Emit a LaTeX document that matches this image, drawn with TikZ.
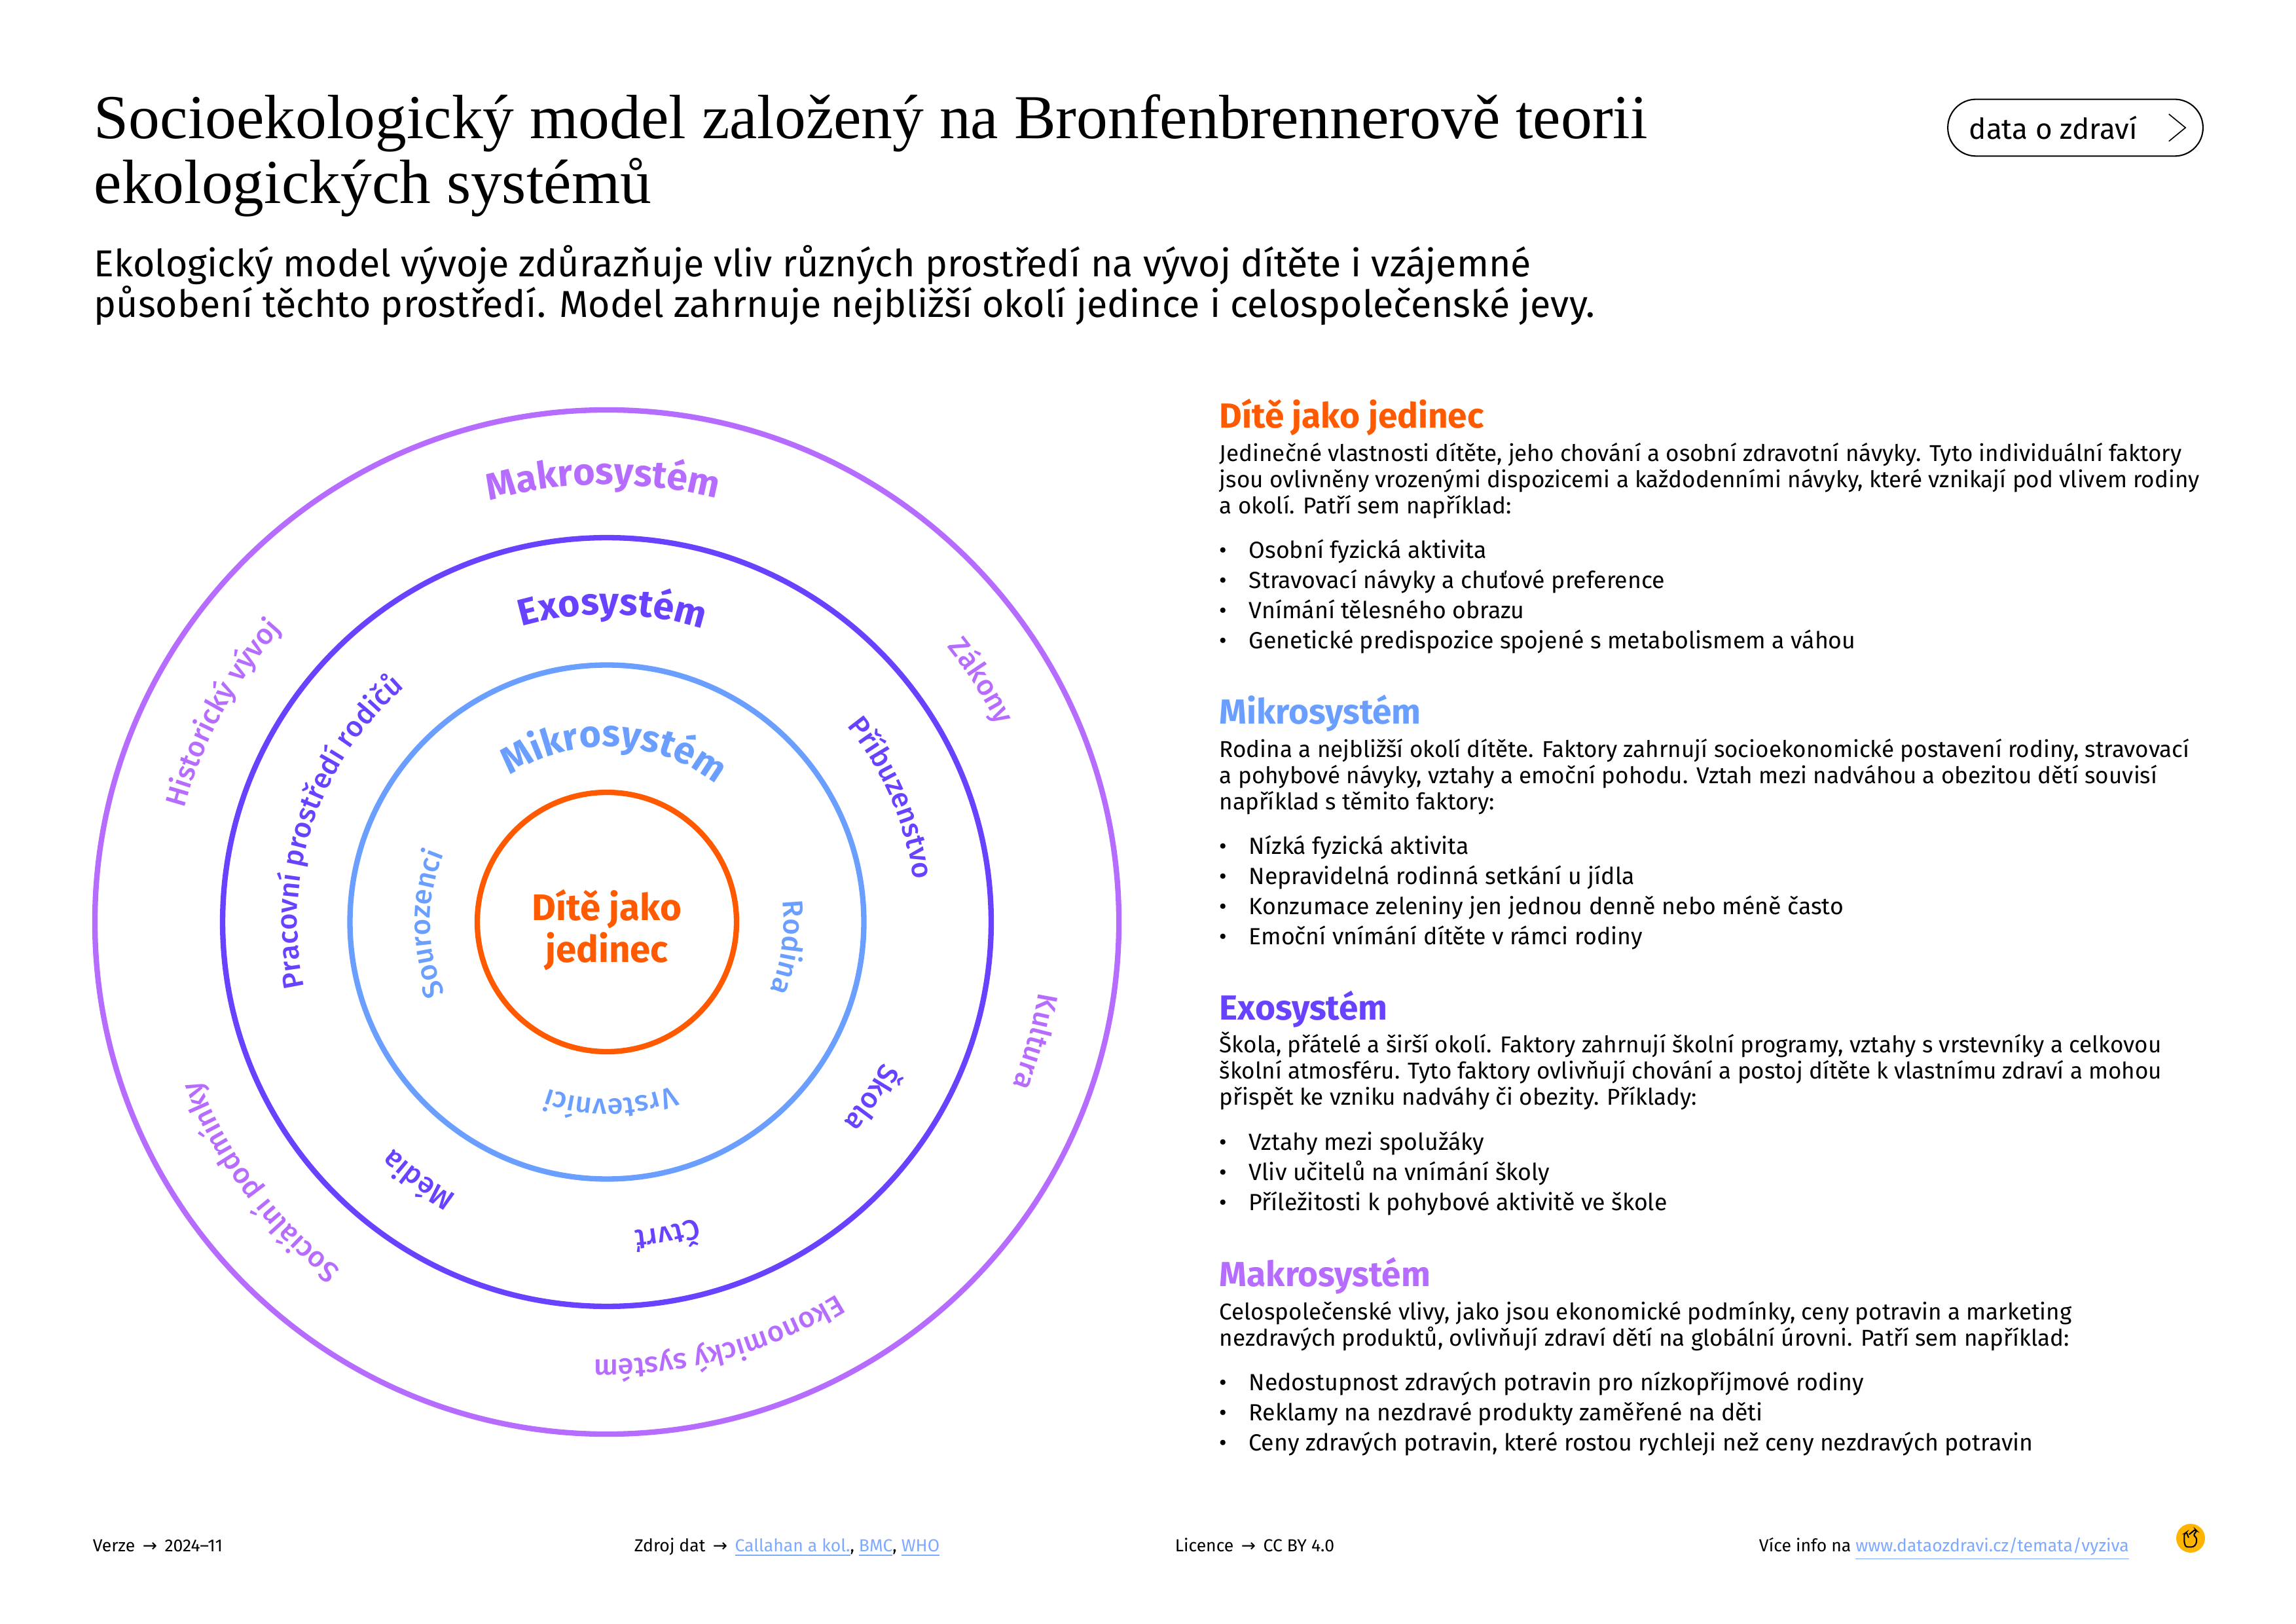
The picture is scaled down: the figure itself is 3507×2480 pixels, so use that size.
\documentclass[tikz,border=0pt]{standalone}
\usepackage{fontspec}
\usepackage{xcolor}
\usetikzlibrary{positioning, calc, decorations.text}
\setmainfont{Fira Sans}
\newfontfamily\titlefont{Liberation Serif}
\newfontfamily\arrowfont{DejaVu Sans}
\newfontfamily\arcfont{Fira Sans Medium}
\definecolor{childcol}{HTML}{FF5A00}
\definecolor{microcol}{HTML}{6A9EFF}
\definecolor{exocol}{HTML}{6842FF}
\definecolor{macrocol}{HTML}{B56CFF}
\definecolor{linkcol}{HTML}{7FA8FF}
\definecolor{logocol}{HTML}{FFB400}
\newcommand{\arclabel}[4]{%
  \path[decorate, decoration={text along path, text align=center, text={|#3|#4}}]
    (#2+80:#1) arc[start angle=#2+80, end angle=#2-80, radius=#1];}
\newcommand{\itm}[1]{\makebox[10.8pt][l]{\textbullet}#1}
\newcommand{\ftarrow}{{\arrowfont\,→\,}}
\newcommand{\lnk}[1]{\textcolor{linkcol}{\underline{#1}}}
\newcommand{\bigarc}{\fontsize{13.8}{15}\selectfont\bfseries}
\newcommand{\smallarc}{\fontsize{10.5}{12}\selectfont\arcfont}
\begin{document}
\begin{tikzpicture}[
  x=0.2409pt, y=0.2409pt,
  ring/.style={draw, line width=2pt},
  heading/.style={font=\fontsize{12.8}{14}\selectfont\bfseries, inner sep=0pt, anchor=north west},
  bodytext/.style={font=\fontsize{8.44}{9.64}\selectfont, inner sep=0pt, align=left},
  itemlist/.style={font=\fontsize{8.6}{11.1}\selectfont, inner sep=0pt, align=left},
  foot/.style={font=\fontsize{6.4}{7.5}\selectfont, inner sep=0pt, anchor=base west},
]
  \useasboundingbox (0,0) rectangle (3507,-2480);

  % Title block
  \node[font=\titlefont\fontsize{23}{24}\selectfont, inner sep=0pt, anchor=north west, align=left] (title) at (143,-143)
    {Socioekologický model založený na Bronfenbrennerově teorii\\ekologických systémů};
  \node[font=\fontsize{13.8}{15}\selectfont, inner sep=0pt, align=left, below right=10pt and 0pt of title.south west] (subtitle)
    {Ekologický model vývoje zdůrazňuje vliv různých prostředí na vývoj dítěte i vzájemné\\působení těchto prostředí. Model zahrnuje nejbližší okolí jedince i celospolečenské jevy.};

  % Button
  \node[draw, line width=0.5pt, rounded corners=10.4pt, minimum width=93.9pt, minimum height=20.9pt] (btn) at (3170,-195) {};
  \node[font=\fontsize{10.6}{11}\selectfont, inner sep=0pt, anchor=west] (btntext) at ([xshift=7.9pt]btn.west) {data o zdraví};
  \coordinate (chevtop) at ([xshift=-12.8pt, yshift=5pt]btn.east);
  \coordinate (chevtip) at ([xshift=-6.7pt]btn.east);
  \coordinate (chevbot) at ([xshift=-12.8pt, yshift=-5pt]btn.east);
  \draw[line width=0.4pt] (chevtop) -- (chevtip) -- (chevbot);

  % Rings
  \begin{scope}[shift={(927,-1408)}]
    \node[ring, circle, inner sep=0pt, minimum size=95.4pt, childcol] (child) at (0,0) {};
    \node[ring, circle, inner sep=0pt, minimum size=189.1pt, microcol] (micro) at (0,0) {};
    \node[ring, circle, inner sep=0pt, minimum size=282.8pt, exocol] (exo) at (0,0) {};
    \node[ring, circle, inner sep=0pt, minimum size=376.8pt, macrocol] (macro) at (0,0) {};
    \node[font=\fontsize{13.6}{15.4}\selectfont\bfseries, text=childcol, align=center, yshift=-3pt] (childtext) at (child) {Dítě jako\\jedinec};

    % Macro labels
    \arclabel{668}{90.5}{\bigarc\color{macrocol}}{Makrosystém}
    \arclabel{668}{151.5}{\smallarc\color{macrocol}}{Historický vývoj}
    \arclabel{668}{32.8}{\smallarc\color{macrocol}}{Zákony}
    \arclabel{668}{-15.6}{\smallarc\color{macrocol}}{Kultura}
    \arclabel{668}{-75}{\smallarc\color{macrocol}}{Ekonomický systém}
    \arclabel{668}{216.8}{\smallarc\color{macrocol}}{Sociální podmínky}
    % Exo labels
    \arclabel{470}{89}{\bigarc\color{exocol}}{Exosystém}
    \arclabel{473}{161.5}{\smallarc\color{exocol}}{Pracovní prostředí rodičů}
    \arclabel{473}{23.5}{\smallarc\color{exocol}}{Příbuzenstvo}
    \arclabel{473}{-33.6}{\smallarc\color{exocol}}{Škola}
    \arclabel{473}{-79}{\smallarc\color{exocol}}{Čtvrť}
    \arclabel{476}{233.8}{\smallarc\color{exocol}}{Média}
    % Micro labels
    \arclabel{268}{87.5}{\bigarc\color{microcol}}{Mikrosystém}
    \arclabel{270}{180.6}{\smallarc\color{microcol}}{Sourozenci}
    \arclabel{270}{-8}{\smallarc\color{microcol}}{Rodina}
    \arclabel{270}{-88.8}{\smallarc\color{microcol}}{Vrstevníci}
  \end{scope}

  % Right column
  \node[heading, text=childcol] (childhead) at (1862,-608) {Dítě jako jedinec};
  \node[bodytext, below right=2.3pt and 0pt of childhead.south west] (childbody)
    {Jedinečné vlastnosti dítěte, jeho chování a osobní zdravotní návyky. Tyto individuální faktory\\jsou ovlivněny vrozenými dispozicemi a každodenními návyky, které vznikají pod vlivem rodiny\\a okolí. Patří sem například:};
  \node[itemlist, below right=7.4pt and 0pt of childbody.south west] (childlist)
    {\itm{Osobní fyzická aktivita}\\\itm{Stravovací návyky a chuťové preference}\\\itm{Vnímání tělesného obrazu}\\\itm{Genetické predispozice spojené s metabolismem a váhou}};

  \node[heading, text=microcol] (microhead) at (1862,-1060) {Mikrosystém};
  \node[bodytext, below right=2.3pt and 0pt of microhead.south west] (microbody)
    {Rodina a nejbližší okolí dítěte. Faktory zahrnují socioekonomické postavení rodiny, stravovací\\a pohybové návyky, vztahy a emoční pohodu. Vztah mezi nadváhou a obezitou dětí souvisí\\například s těmito faktory:};
  \node[itemlist, below right=7.4pt and 0pt of microbody.south west] (microlist)
    {\itm{Nízká fyzická aktivita}\\\itm{Nepravidelná rodinná setkání u jídla}\\\itm{Konzumace zeleniny jen jednou denně nebo méně často}\\\itm{Emoční vnímání dítěte v rámci rodiny}};

  \node[heading, text=exocol] (exohead) at (1862,-1512) {Exosystém};
  \node[bodytext, below right=1.3pt and 0pt of exohead.south west] (exobody)
    {Škola, přátelé a širší okolí. Faktory zahrnují školní programy, vztahy s vrstevníky a celkovou\\školní atmosféru. Tyto faktory ovlivňují chování a postoj dítěte k vlastnímu zdraví a mohou\\přispět ke vzniku nadváhy či obezity. Příklady:};
  \node[itemlist, below right=7.4pt and 0pt of exobody.south west] (exolist)
    {\itm{Vztahy mezi spolužáky}\\\itm{Vliv učitelů na vnímání školy}\\\itm{Příležitosti k pohybové aktivitě ve škole}};

  \node[heading, text=macrocol] (macrohead) at (1862,-1919) {Makrosystém};
  \node[bodytext, below right=2.3pt and 0pt of macrohead.south west] (macrobody)
    {Celospolečenské vlivy, jako jsou ekonomické podmínky, ceny potravin a marketing\\nezdravých produktů, ovlivňují zdraví dětí na globální úrovni. Patří sem například:};
  \node[itemlist, below right=7.4pt and 0pt of macrobody.south west] (macrolist)
    {\itm{Nedostupnost zdravých potravin pro nízkopříjmové rodiny}\\\itm{Reklamy na nezdravé produkty zaměřené na děti}\\\itm{Ceny zdravých potravin, které rostou rychleji než ceny nezdravých potravin}};

  % Footer
  \node[foot] (version) at (141,-2369) {Verze \ftarrow\ 2024–11};
  \node[foot] (source) at (968,-2369) {Zdroj dat \ftarrow\ \lnk{Callahan a kol.}, \lnk{BMC}, \lnk{WHO}};
  \node[foot] (licence) at (1794,-2369) {Licence \ftarrow\ CC BY 4.0};
  \node[foot] (moreinfo) at (2686,-2369) {Více info na \lnk{www.dataozdravi.cz/temata/vyziva}};
  \node[circle, fill=logocol, inner sep=0pt, minimum size=10.6pt] (logo) at (3346,-2349) {};
  \draw[line width=0.5pt, rounded corners=0.6pt, shift={(logo.center)}]
    (-3,0.7) -- (-6.3,9) -- (-9.7,6.7) -- (-9.7,-6.7) -- (-7.3,-13.3) -- (4.3,-13.3) -- (8.7,-8.3) -- (9.3,0) -- (4.3,5) -- (9.3,11) -- (7,13.3) -- (-2.3,5.7);
\end{tikzpicture}
\end{document}
